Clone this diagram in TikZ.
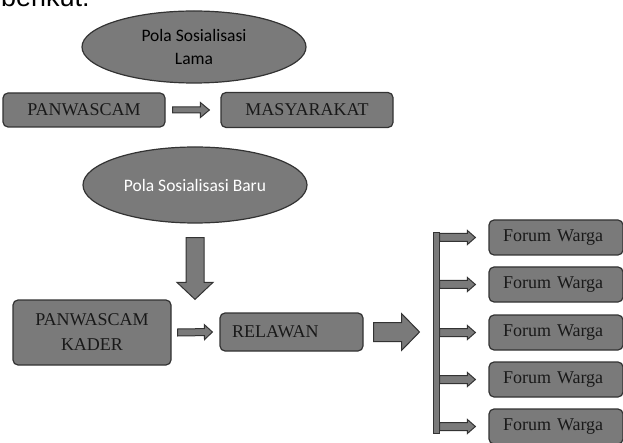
\documentclass[tikz,border=0pt]{standalone}
\usepackage{fontspec}
\setmainfont{Liberation Serif}
\newfontfamily\calibri{Carlito}
\newfontfamily\arialfont{Liberation Sans}
\usetikzlibrary{calc,shapes.geometric}
\definecolor{boxfill}{HTML}{7A7A7A}
\definecolor{boxline}{HTML}{333333}

\begin{document}
\begin{tikzpicture}[x=1pt, y=-1pt,
  box/.style={draw=boxline, fill=boxfill, rounded corners=5pt, line width=1.2pt, inner sep=0pt, text=black!90, font=\fontsize{18}{25}\selectfont},
  oval/.style={draw=boxline, fill=boxfill, ellipse, line width=1.2pt, inner sep=0pt, align=center, font=\calibri\fontsize{17.5}{23}\selectfont},
  blockarrow/.style n args={3}{draw=boxline, fill=boxfill, line width=1pt,
    to path={-- ($(\tikztostart)!#1!90:(\tikztotarget)$)
      -- ($($(\tikztotarget)!#3!(\tikztostart)$)!#1!90:(\tikztotarget)$)
      -- ($($(\tikztotarget)!#3!(\tikztostart)$)!#2!90:(\tikztotarget)$)
      -- (\tikztotarget)
      -- ($($(\tikztotarget)!#3!(\tikztostart)$)!#2!-90:(\tikztotarget)$)
      -- ($($(\tikztotarget)!#3!(\tikztostart)$)!#1!-90:(\tikztotarget)$)
      -- ($(\tikztostart)!#1!-90:(\tikztotarget)$) -- cycle}}]
\useasboundingbox (0,0) rectangle (623,443);

\node (berikut) [anchor=base west, inner sep=0pt, font=\arialfont\fontsize{27}{30}\selectfont] at (1,7) {berikut:};

% pola lama
\node (lama) [oval, minimum width=224pt, minimum height=72pt] at (194,47) {Pola Sosialisasi\\Lama};
\node (panwascam) [box, minimum width=162pt, minimum height=34pt] at (84,110) {PANWASCAM};
\node (masyarakat) [box, minimum width=172pt, minimum height=35pt, right of=panwascam, node distance=223pt] {MASYARAKAT};
\draw [blockarrow={3pt}{7.5pt}{9pt}] ([xshift=7pt]panwascam.east) to ([xshift=-11pt]masyarakat.west);

% pola baru
\node (baru) [oval, text=white, minimum width=224pt, minimum height=76pt] at (195,185) {Pola Sosialisasi Baru};
\node (kader) [box, minimum width=158pt, minimum height=65pt, align=center] at (92,332.5) {PANWASCAM\\KADER};
\node (relawan) [box, text width=119pt, inner xsep=12pt, minimum height=38pt, align=left] at (291.5,332) {RELAWAN};
\node (bar) [draw=boxline, fill=boxfill, line width=1pt, minimum width=6pt, minimum height=200pt, inner sep=0pt] at (436,333) {};
\draw [blockarrow={9pt}{18pt}{17pt}] ([yshift=-14pt]baru.south) to (baru.south |- kader.north);
\draw [blockarrow={3.5pt}{7.5pt}{8pt}] ([xshift=6pt]kader.east) to ([xshift=-7pt]relawan.west);
\draw [blockarrow={9.5pt}{18.5pt}{18pt}] ([xshift=10pt]relawan.east) to ([xshift=-13pt]bar.west |- relawan.east);

\foreach \i/\y in {1/237.5, 2/284.5, 3/332.5, 4/379.5, 5/426.5} {
  \node (forum\i) [box, text width=106pt, inner xsep=14pt, minimum height=35pt, align=left] at (556,\y) {Forum Warga};
  \draw [blockarrow={4pt}{7pt}{8pt}] (bar.east |- forum\i.west) to ([xshift=-13pt]forum\i.west);
}
\end{tikzpicture}
\end{document}
